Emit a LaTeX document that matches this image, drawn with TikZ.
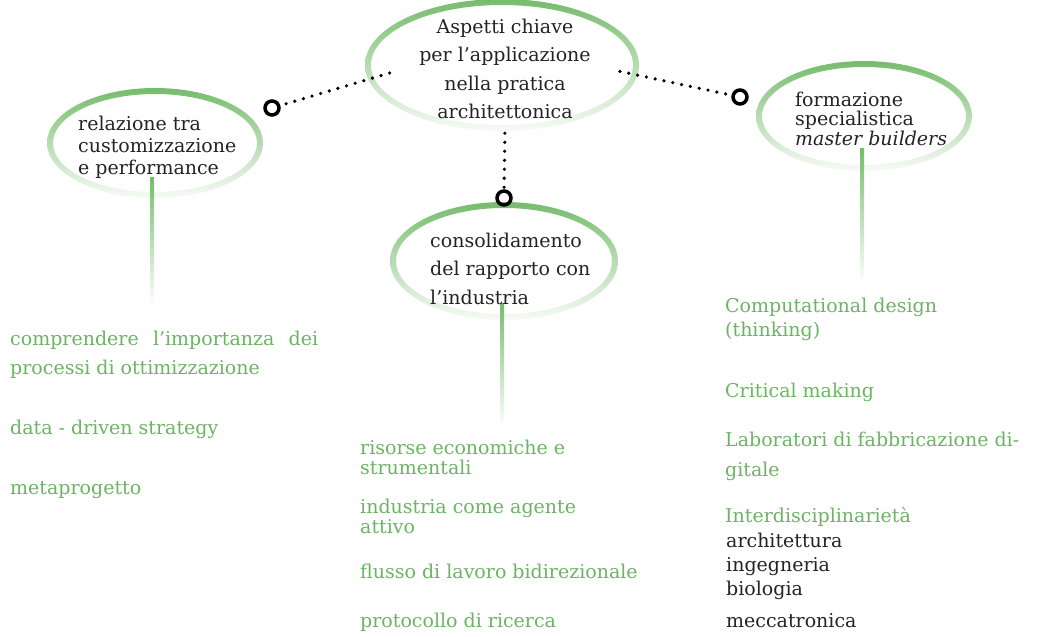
\documentclass[tikz,border=0pt]{standalone}
\usepackage{fontspec}
\setmainfont{DejaVu Serif}
\usetikzlibrary{shapes.geometric,calc}
\definecolor{gtext}{RGB}{108,180,100}
\definecolor{gring}{RGB}{118,188,108}
\definecolor{dtext}{RGB}{35,35,35}
\tikzset{
  ellnode/.style={ellipse, draw=none, inner sep=0pt},
  ringnode/.style={circle, draw=black, line width=3.5pt, minimum size=14pt, inner sep=0pt},
  dotcon/.style={line width=3.6pt, line cap=round, dash pattern=on 0pt off 9pt, black},
  etxt/.style={text=dtext, inner sep=0pt, anchor=base west, align=left},
  gtxt/.style={text=gtext, inner sep=0pt, anchor=base west, align=left},
  btxt/.style={text=dtext, inner sep=0pt, anchor=base west, align=left},
  fs/.style={font=\fontsize{19}{#1}\selectfont},
}
\newcommand{\ringat}[3]{% node, rx, ry (stroke centre)
  \shade[top color=gring, middle color=gring!80, bottom color=gring!6, even odd rule]
    (#1.center) ellipse [x radius=#2+3, y radius=#3+3]
    (#1.center) ellipse [x radius=#2-3, y radius=#3-3];}
\newcommand{\fadeline}[2]{%
  \shade[top color=gring, bottom color=white] ($(#1)+(-2,0)$) rectangle ($(#2)+(2,0)$);}
\begin{document}
\begin{tikzpicture}[x=1pt,y=-1pt]
\useasboundingbox (0,0) rectangle (1039,637);

% ellipses
\node[ellnode, minimum width=268pt, minimum height=126pt] (eTop) at (502,65) {};
\node[ellnode, minimum width=210pt, minimum height=104pt] (eLeft) at (155,143) {};
\node[ellnode, minimum width=210pt, minimum height=104pt] (eRight) at (864,116) {};
\node[ellnode, minimum width=222pt, minimum height=112pt] (eMid) at (504,261) {};
\ringat{eTop}{134}{63}
\ringat{eLeft}{105}{52}
\ringat{eRight}{105}{52}
\ringat{eMid}{111}{56}

% rings
\node[ringnode] (rL) at (272,108) {};
\node[ringnode] (rR) at (740,97) {};
\node[ringnode] (rM) at (504,198) {};

% dotted connectors
\coordinate (dL) at (393,72);
\coordinate (dR) at (618,71);
\coordinate (dM) at (505,128);
\draw[dotcon, shorten <=6pt] (rL) -- (dL);
\draw[dotcon, shorten <=6pt] (rR) -- (dR);
\draw[dotcon, shorten <=2pt] (rM) -- (dM);

% fading vertical lines
\coordinate (vL1) at (152,177); \coordinate (vL2) at (152,307);
\coordinate (vM1) at (502,303); \coordinate (vM2) at (502,427);
\coordinate (vR1) at (862,148); \coordinate (vR2) at (862,284);
\fadeline{vL1}{vL2}
\fadeline{vM1}{vM2}
\fadeline{vR1}{vR2}

% ellipse texts (anchor = baseline of the last line)
\node[etxt, fs=28.5, anchor=base, align=center] (tTop) at (505,118.5)
  {Aspetti chiave\\per l’applicazione\\nella pratica\\architettonica};
\node[etxt, fs=22] (tLeft) at (78,174) {relazione tra\\customizzazione\\e performance};
\node[etxt, fs=19.5] (tRight) at (795,145) {formazione\\specialistica\\\textit{master builders}};
\node[etxt, fs=28.5] (tMid) at (430,304) {consolidamento\\del rapporto con\\l’industria};

% left list
\node[gtxt, fs=29] (l1) at (10,374) {\hbox to 308pt{comprendere\hfill l’importanza\hfill dei}\\processi di ottimizzazione};
\node[gtxt, fs=22] (l2) at (10,434) {data - driven strategy};
\node[gtxt, fs=22] (l3) at (10,494) {metaprogetto};

% middle list
\node[gtxt, fs=20] (m1) at (360,474) {risorse economiche e\\strumentali};
\node[gtxt, fs=20] (m2) at (360,533) {industria come agente\\attivo};
\node[gtxt, fs=22] (m3) at (360,578) {flusso di lavoro bidirezionale};
\node[gtxt, fs=22] (m4) at (360,627) {protocollo di ricerca};

% right list
\node[gtxt, fs=24] (r1) at (725,336) {Computational design\\(thinking)};
\node[gtxt, fs=22] (r2) at (725,397) {Critical making};
\node[gtxt, fs=30] (r3) at (725,476) {Laboratori di fabbricazione di-\\gitale};
\node[gtxt, fs=22] (r4) at (725,522) {Interdisciplinarietà};
\node[btxt, fs=24] (r5) at (726,595) {architettura\\ingegneria\\biologia};
\node[btxt, fs=22] (r6) at (726,627) {meccatronica};
\end{tikzpicture}
\end{document}
